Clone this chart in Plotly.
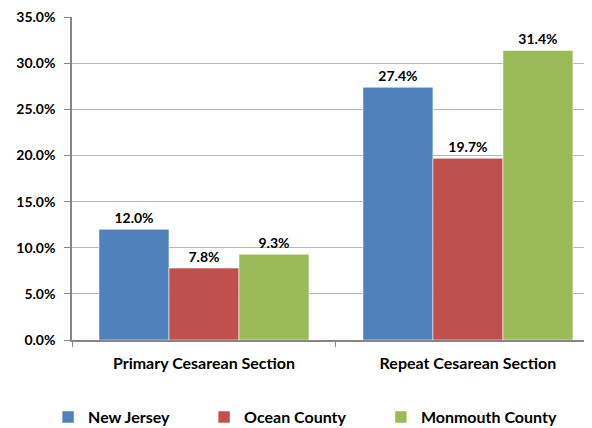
import plotly.graph_objects as go

categories = ["Primary Cesarean Section", "Repeat Cesarean Section"]
series_names = ["New Jersey", "Ocean County", "Monmouth County"]
new_jersey = [0.120, 0.274]
ocean_county = [0.078, 0.197]
monmouth_county = [0.093, 0.314]
colors = ["#4F81BD", "#C0504D", "#9BBB59"]
y_ticks = [0.0, 0.05, 0.10, 0.15, 0.20, 0.25, 0.30, 0.35]
legend_ids = ["legend", "legend2", "legend3"]
legend_x = [-0.046, 0.254, 0.594]

FONT = "Lato"
fig = go.Figure()
for name, vals, col, lg in zip(series_names, [new_jersey, ocean_county, monmouth_county], colors, legend_ids):
    fig.add_trace(go.Bar(
        x=categories, y=vals, name=name, legend=lg,
        marker=dict(color=col, line=dict(color="rgba(255,255,255,0.55)", width=1)),
        texttemplate="%{y:.1%}", textposition="outside",
        textfont=dict(family=FONT, size=14, color="#000000", weight="bold"),
        cliponaxis=False,
    ))

legend_style = dict(orientation="h", xanchor="left", yref="container", y=0.026, yanchor="middle",
                    bgcolor="rgba(0,0,0,0)",
                    font=dict(family=FONT, size=16, color="#000000", weight="bold"))
fig.update_layout(
    width=584, height=420,
    margin=dict(l=64, r=0, t=9, b=88),
    paper_bgcolor="white", plot_bgcolor="white",
    barmode="group", bargap=0.2045, bargroupgap=0,
    font=dict(family=FONT, size=13, color="#000000"),
    showlegend=True,
    legend=dict(x=legend_x[0], **legend_style),
    legend2=dict(x=legend_x[1], **legend_style),
    legend3=dict(x=legend_x[2], **legend_style),
    xaxis=dict(type="category", range=[-0.5, 1.47], tickson="boundaries",
               ticks="outside", ticklen=5, tickcolor="#868686",
               showline=True, linecolor="#868686", linewidth=1.5,
               showgrid=False, automargin=False, ticklabelstandoff=8,
               tickfont=dict(family=FONT, size=16, color="#000000", weight="bold")),
    yaxis=dict(range=[0, 0.3502], tickvals=y_ticks, tickformat=".1%",
               ticks="outside", ticklen=6, tickcolor="#868686",
               showline=True, linecolor="#868686", linewidth=1.5,
               showgrid=True, gridcolor="#B9B9B9", gridwidth=1,
               zeroline=False, automargin=False, ticklabelstandoff=6,
               tickfont=dict(family=FONT, size=14, color="#000000", weight="bold")),
)

fig.write_html("out.html")
